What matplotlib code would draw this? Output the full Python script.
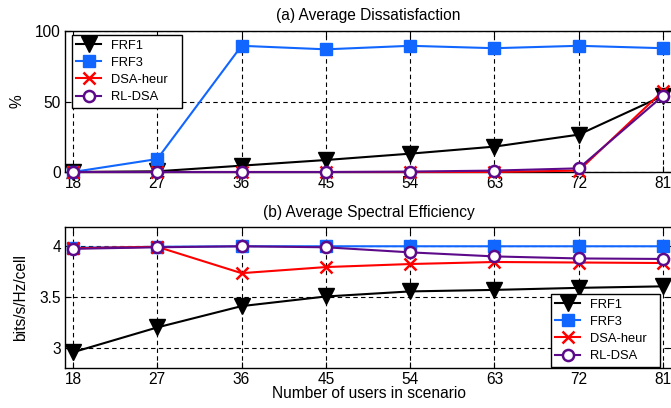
import numpy as np
import matplotlib
matplotlib.use('Agg')
import matplotlib.pyplot as plt

plt.rcParams['font.family'] = ['Liberation Sans', 'DejaVu Sans']

# data
users = [18, 27, 36, 45, 54, 63, 72, 81]

dis_frf1 = [0, 0.5, 4.5, 8.5, 13, 18, 26.5, 54]
dis_frf3 = [0, 9.2, 89.5, 87, 89.5, 87.8, 89.5, 87.8]
dis_dsa = [0, 0, 0, 0, 0, 0, 1, 57.5]
dis_rl = [0, 0, 0, 0, 0.3, 1, 2.6, 54]

se_frf1 = [2.955, 3.2, 3.41, 3.505, 3.555, 3.57, 3.59, 3.605]
se_frf3 = [3.985, 3.995, 4.0, 4.0, 4.0, 4.0, 4.0, 4.0]
se_dsa = [3.98, 3.995, 3.735, 3.795, 3.825, 3.845, 3.84, 3.835]
se_rl = [3.975, 3.99, 4.0, 3.99, 3.94, 3.9, 3.88, 3.875]

labels = ['FRF1', 'FRF3', 'DSA-heur', 'RL-DSA']

styles = [
    dict(color='black', marker='v', markersize=11, markerfacecolor='black'),
    dict(color='#1166ff', marker='s', markersize=9, markerfacecolor='#1166ff'),
    dict(color='red', marker='x', markersize=9, markeredgewidth=1.8),
    dict(color='#5c0a8a', marker='o', markersize=8, markerfacecolor='white',
         markeredgewidth=1.8),
]

fig = plt.figure(figsize=(6.71, 4.08), dpi=100)
W, H = 671.0, 408.0
ax1 = fig.add_axes([65 / W, 1 - 172 / H, (672.4 - 65) / W, (172 - 31) / H])
ax2 = fig.add_axes([65 / W, 1 - 368 / H, (672.4 - 65) / W, (368 - 227) / H])

FS = 11.2


def style_axes(ax):
    ax.grid(True, color='black', linestyle=(0, (4, 3)), linewidth=0.8)
    ax.tick_params(direction='in', top=True, right=True, labelsize=FS,
                   length=4, width=0.8, pad=3)
    for s in ax.spines.values():
        s.set_linewidth(1.0)
    ax.set_xticks(users)
    ax.set_xlim(17.15, 82)


def add_legend(ax, x0, y1, x1, loc):
    # box given in pixels: left, top, right
    leg = ax.legend(loc=loc, bbox_to_anchor=(x0 / W, 1 - y1 / H, (x1 - x0) / W, 0),
                    bbox_transform=fig.transFigure, mode='expand',
                    fontsize=9.3, frameon=True, fancybox=False, edgecolor='black',
                    framealpha=1, borderaxespad=0, handlelength=1.95,
                    handletextpad=0.75, labelspacing=0.4, borderpad=0.35)
    leg.get_frame().set_linewidth(1.0)
    return leg


for y, st, lab in zip([dis_frf1, dis_frf3, dis_dsa, dis_rl], styles, labels):
    ax1.plot(users, y, linewidth=1.5, label=lab, clip_on=False, zorder=3, **st)
style_axes(ax1)
ax1.set_ylim(0, 100)
ax1.set_yticks([0, 50, 100])
ax1.set_ylabel('%', fontsize=FS)
ax1.yaxis.set_label_coords(-0.066, 0.5)
ax1.set_title('(a) Average Dissatisfaction', fontsize=FS, pad=8)
add_legend(ax1, 71.7, 35, 181.7, 'upper left')

for y, st, lab in zip([se_frf1, se_frf3, se_dsa, se_rl], styles, labels):
    ax2.plot(users, y, linewidth=1.5, label=lab, clip_on=False, zorder=3, **st)
style_axes(ax2)
ax2.set_ylim(2.8, 4.19)
ax2.set_yticks([3, 3.5, 4])
ax2.set_yticklabels(['3', '3.5', '4'])
ax2.set_ylabel('bits/s/Hz/cell', fontsize=FS)
ax2.yaxis.set_label_coords(-0.061, 0.5)
ax2.set_xlabel('Number of users in scenario', fontsize=FS, labelpad=-1)
ax2.set_title('(b) Average Spectral Efficiency', fontsize=FS, pad=7)
add_legend(ax2, 550.7, 294, 660, 'upper left')

fig.savefig('out.png', dpi=100)
